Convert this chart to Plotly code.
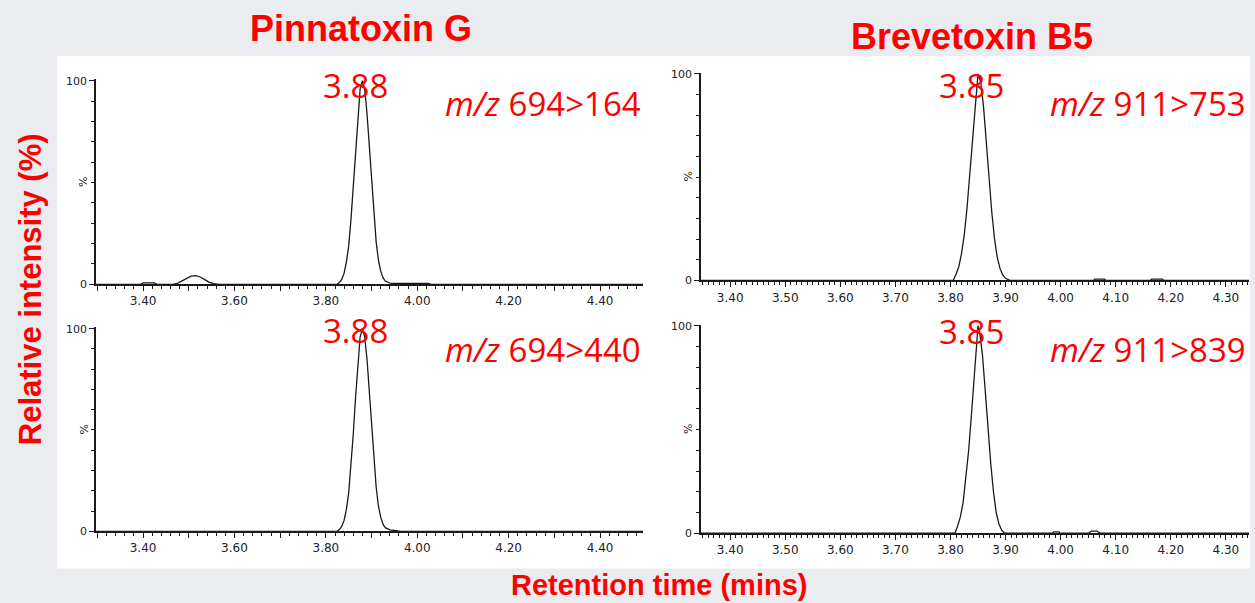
import plotly.graph_objects as go

# Extracted-ion chromatograms (retention time in min, relative intensity in %)
pnt_164_time = [3.297, 3.395, 3.400, 3.425, 3.430, 3.465, 3.475, 3.485, 3.495, 3.505,
                3.515, 3.525, 3.535, 3.545, 3.555, 3.565, 3.825, 3.830, 3.835, 3.840,
                3.845, 3.850, 3.855, 3.860, 3.865, 3.870, 3.875, 3.880, 3.885, 3.890,
                3.895, 3.900, 3.905, 3.910, 3.915, 3.920, 3.925, 3.930, 3.940, 3.955,
                4.025, 4.030, 4.494]
pnt_164_int = [0, 0, 0.7, 0.7, 0, 0, 0.5, 1.6, 3.0, 4.0,
               4.3, 3.6, 2.3, 1.0, 0.3, 0, 0, 1.0, 2.5, 5.5,
               11, 19, 32, 48, 66, 83, 96, 100, 96, 84,
               68, 50, 34, 21, 12, 6.5, 3.3, 1.6, 0.6, 0.4,
               0.4, 0, 0]

pnt_440_time = [3.297, 3.825, 3.830, 3.835, 3.840, 3.845, 3.850, 3.855, 3.860, 3.865,
                3.870, 3.875, 3.880, 3.885, 3.890, 3.895, 3.900, 3.905, 3.910, 3.915,
                3.920, 3.925, 3.930, 3.940, 3.955, 3.965, 4.494]
pnt_440_int = [0, 0, 1.0, 2.5, 5.5, 11, 19, 32, 48, 66,
               83, 96, 100, 96, 85, 69, 51, 35, 22, 12.5,
               7, 3.5, 1.8, 0.7, 0.3, 0, 0]

btx_753_time = [3.347, 3.805, 3.810, 3.815, 3.820, 3.825, 3.830, 3.835, 3.840, 3.845,
                3.850, 3.855, 3.860, 3.865, 3.870, 3.875, 3.880, 3.885, 3.890, 3.895,
                3.900, 3.908, 4.060, 4.062, 4.080, 4.082, 4.163, 4.165, 4.185, 4.187,
                4.342]
btx_753_int = [0, 0, 3.0, 6.5, 13, 22, 35, 50, 67, 84,
               100, 96, 84, 67, 49, 33, 20, 11, 5.7, 2.6,
               1.0, 0, 0, 0.6, 0.6, 0, 0, 0.6, 0.6, 0,
               0]

btx_839_time = [3.347, 3.808, 3.813, 3.818, 3.823, 3.828, 3.833, 3.838, 3.843, 3.848,
                3.850, 3.853, 3.858, 3.863, 3.868, 3.873, 3.878, 3.883, 3.888, 3.893,
                3.898, 3.985, 3.987, 3.997, 3.999, 4.050, 4.056, 4.066, 4.072, 4.342]
btx_839_int = [0, 0, 3.5, 8, 15, 26, 40, 57, 75, 93,
               100, 97, 86, 69, 51, 34, 20, 10, 4.5, 1.5,
               0, 0, 0.7, 0.7, 0, 0, 1.0, 1.0, 0, 0]

panels = [
    # (times, intensities, x-range, apex label, transition label)
    (pnt_164_time, pnt_164_int, [3.297, 4.494], "3.88", "694>164"),
    (btx_753_time, btx_753_int, [3.347, 4.342], "3.85", "911>753"),
    (pnt_440_time, pnt_440_int, [3.297, 4.494], "3.88", "694>440"),
    (btx_839_time, btx_839_int, [3.347, 4.342], "3.85", "911>839"),
]

W, H = 1255, 603
RED = "#ff0000"
INK = "#1a1a1a"

# pixel boxes of each plot area: (left, right, top, bottom)
boxes = [(96, 643, 76, 285), (701, 1249, 69, 281),
         (96, 643, 329, 537), (701, 1249, 326, 539)]
# vertical pixel centres of the apex label and the transition label in each panel
label_rows = [(82, 101), (82, 101), (332, 351), (333, 352)]

fig = go.Figure()
layout = dict(
    width=W, height=H, margin=dict(l=0, r=0, t=0, b=0),
    paper_bgcolor="#eaecef", plot_bgcolor="rgba(0,0,0,0)",
    showlegend=False, shapes=[], annotations=[],
)

tick_font = dict(family="DejaVu Sans", size=12, color="#222")

for i, (t, y, xr, apex, trans) in enumerate(panels):
    n = "" if i == 0 else str(i + 1)
    left, right, top, bottom = boxes[i]
    fig.add_trace(go.Scatter(x=t, y=y, mode="lines", xaxis="x" + n, yaxis="y" + n,
                             line=dict(color=INK, width=1.3), hoverinfo="skip"))
    pinna = i % 2 == 0
    layout["xaxis" + n] = dict(
        domain=[left / W, right / W], range=xr, anchor="y" + n,
        showline=True, linecolor=INK, linewidth=1.5, showgrid=False, zeroline=False,
        ticks="outside", ticklen=5, tickwidth=1, tickcolor=INK,
        tick0=3.4, dtick=0.1, ticklabelstep=2 if pinna else 1, tickformat=".2f",
        tickfont=tick_font, ticklabelstandoff=0,
        minor=dict(ticks="outside", ticklen=3, tickwidth=1, tickcolor=INK,
                   tick0=3.3, dtick=0.02 if pinna else 0.01, showgrid=False),
    )
    layout["yaxis" + n] = dict(
        domain=[1 - bottom / H, 1 - top / H], range=[0, 100.6], anchor="x" + n,
        showline=True, linecolor=INK, linewidth=1.5, showgrid=False, zeroline=False,
        ticks="outside", ticklen=5, tickwidth=1, tickcolor=INK,
        tickmode="array", tickvals=[0, 100], ticktext=["0", "100"],
        tickfont=dict(family="DejaVu Sans", size=11, color="#222"),
        minor=dict(ticks="outside", ticklen=3, tickwidth=1, tickcolor=INK,
                   tickmode="linear", tick0=0, dtick=10, showgrid=False),
    )
    ymid = 1 - (top + bottom) / 2 / H
    layout["annotations"].append(dict(
        text="%", x=(left - 12) / W, y=ymid, xref="paper", yref="paper",
        xanchor="center", yanchor="middle",
        showarrow=False, textangle=-90, font=dict(family="DejaVu Sans", size=11, color="#222")))
    apex_row, trans_row = label_rows[i]
    apex_x = (355 if pinna else 971) / W
    layout["annotations"].append(dict(
        text=apex, x=apex_x, y=1 - apex_row / H, xref="paper", yref="paper",
        xanchor="center", yanchor="middle", showarrow=False,
        font=dict(family="Open Sans", size=33, color=RED)))
    trans_x = (443 if pinna else 1048) / W
    layout["annotations"].append(dict(
        text="<i>m/z</i> " + trans, x=trans_x, y=1 - trans_row / H, xref="paper", yref="paper",
        xanchor="left", yanchor="middle", showarrow=False,
        font=dict(family="Open Sans", size=33, color=RED)))

# compound headings and shared axis titles
layout["annotations"] += [
    dict(text="<b>Pinnatoxin G</b>", x=361 / W, y=1 - 24 / H, xref="paper", yref="paper",
         xanchor="center", yanchor="middle",
         showarrow=False, font=dict(family="Liberation Sans", size=36, color=RED)),
    dict(text="<b>Brevetoxin B5</b>", x=972 / W, y=1 - 32 / H, xref="paper", yref="paper",
         xanchor="center", yanchor="middle",
         showarrow=False, font=dict(family="Liberation Sans", size=36, color=RED)),
    dict(text="<b>Relative intensity (%)</b>", x=30 / W, y=1 - 290 / H, xref="paper", yref="paper",
         xanchor="center", yanchor="middle",
         showarrow=False, textangle=-90, font=dict(family="Liberation Sans", size=31, color=RED)),
    dict(text="<b>Retention time (mins)</b>", x=659 / W, y=1 - 592 / H, xref="paper", yref="paper",
         xanchor="center", yanchor="middle",
         showarrow=False, font=dict(family="Liberation Sans", size=29, color=RED)),
]

# white sheet behind the four chromatograms
layout["shapes"].append(dict(type="rect", xref="paper", yref="paper", layer="below",
                             x0=57 / W, x1=1250 / W, y0=1 - 575 / H, y1=1 - 52 / H,
                             fillcolor="white", line=dict(width=0)))

fig.update_layout(**layout)
fig.write_html("out.html")
